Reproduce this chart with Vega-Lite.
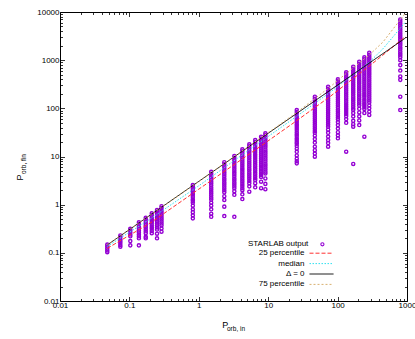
{
  "$schema": "https://vega.github.io/schema/vega-lite/v6.json",
  "width": 347,
  "height": 289,
  "autosize": {"type": "none"},
  "padding": {"left": 60, "top": 12, "right": 8, "bottom": 38},
  "background": "white",
  "config": {
    "view": {"stroke": "#000", "strokeWidth": 1},
    "axis": {"domain": false, "grid": false, "tickColor": "#000", "tickWidth": 0.8, "labelFont": "Liberation Sans", "labelFontSize": 8, "labelColor": "#000", "titleFont": "Liberation Sans", "titleFontWeight": "normal", "titleColor": "#000", "labelOverlap": false, "labelBound": false, "labelFlush": false},
    "legend": {"labelFont": "Liberation Sans", "labelFontSize": 8, "labelColor": "#000", "labelAlign": "right", "padding": 0, "title": null}
  },
  "resolve": {"axis": {"x": "independent", "y": "independent"}},
  "layer": [
    {
      "data": {"values": [
        {"x":0.048,"y":0.148},{"x":0.048,"y":0.135},{"x":0.048,"y":0.123},{"x":0.048,"y":0.112},{"x":0.048,"y":0.103},
        {"x":0.074,"y":0.23},{"x":0.074,"y":0.21},{"x":0.074,"y":0.19},{"x":0.074,"y":0.175},{"x":0.074,"y":0.16},{"x":0.074,"y":0.145},{"x":0.074,"y":0.134},
        {"x":0.103,"y":0.315},{"x":0.103,"y":0.29},{"x":0.103,"y":0.265},{"x":0.103,"y":0.24},{"x":0.103,"y":0.22},{"x":0.103,"y":0.176},{"x":0.103,"y":0.143},
        {"x":0.137,"y":0.43},{"x":0.137,"y":0.39},{"x":0.137,"y":0.355},{"x":0.137,"y":0.32},{"x":0.137,"y":0.29},{"x":0.137,"y":0.265},{"x":0.137,"y":0.24},{"x":0.137,"y":0.22},{"x":0.137,"y":0.2},{"x":0.137,"y":0.143},
        {"x":0.172,"y":0.535},{"x":0.172,"y":0.49},{"x":0.172,"y":0.44},{"x":0.172,"y":0.4},{"x":0.172,"y":0.37},{"x":0.172,"y":0.34},{"x":0.172,"y":0.31},{"x":0.172,"y":0.28},{"x":0.172,"y":0.255},{"x":0.172,"y":0.215},{"x":0.172,"y":0.2},
        {"x":0.21,"y":0.66},{"x":0.21,"y":0.6},{"x":0.21,"y":0.55},{"x":0.21,"y":0.5},{"x":0.21,"y":0.46},{"x":0.21,"y":0.42},{"x":0.21,"y":0.38},{"x":0.21,"y":0.345},{"x":0.21,"y":0.315},{"x":0.21,"y":0.285},{"x":0.21,"y":0.255},
        {"x":0.25,"y":0.775},{"x":0.25,"y":0.71},{"x":0.25,"y":0.645},{"x":0.25,"y":0.59},{"x":0.25,"y":0.535},{"x":0.25,"y":0.49},{"x":0.25,"y":0.445},{"x":0.25,"y":0.405},{"x":0.25,"y":0.37},{"x":0.25,"y":0.335},{"x":0.25,"y":0.305},{"x":0.25,"y":0.25},{"x":0.25,"y":0.2},
        {"x":0.29,"y":0.93},{"x":0.29,"y":0.85},{"x":0.29,"y":0.775},{"x":0.29,"y":0.71},{"x":0.29,"y":0.645},{"x":0.29,"y":0.59},{"x":0.29,"y":0.535},{"x":0.29,"y":0.49},{"x":0.29,"y":0.445},{"x":0.29,"y":0.405},{"x":0.29,"y":0.37},{"x":0.29,"y":0.32},{"x":0.29,"y":0.275},
        {"x":0.82,"y":2.55},{"x":0.82,"y":2.35},{"x":0.82,"y":2.15},{"x":0.82,"y":1.95},{"x":0.82,"y":1.75},{"x":0.82,"y":1.6},{"x":0.82,"y":1.45},{"x":0.82,"y":1.3},{"x":0.82,"y":1.2},{"x":0.82,"y":1.1},{"x":0.82,"y":0.95},{"x":0.82,"y":0.8},{"x":0.82,"y":0.7},{"x":0.82,"y":0.6},{"x":0.82,"y":0.52},
        {"x":1.51,"y":4.8},{"x":1.51,"y":4.4},{"x":1.51,"y":4.0},{"x":1.51,"y":3.65},{"x":1.51,"y":3.3},{"x":1.51,"y":3.0},{"x":1.51,"y":2.75},{"x":1.51,"y":2.5},{"x":1.51,"y":2.25},{"x":1.51,"y":2.05},{"x":1.51,"y":1.85},{"x":1.51,"y":1.7},{"x":1.51,"y":1.55},{"x":1.51,"y":1.4},{"x":1.51,"y":1.28},{"x":1.51,"y":1.1},{"x":1.51,"y":0.95},{"x":1.51,"y":0.8},{"x":1.51,"y":0.65},{"x":1.51,"y":0.56},
        {"x":2.33,"y":7.6},{"x":2.33,"y":6.9},{"x":2.33,"y":6.3},{"x":2.33,"y":5.7},{"x":2.33,"y":5.2},{"x":2.33,"y":4.7},{"x":2.33,"y":4.3},{"x":2.33,"y":3.9},{"x":2.33,"y":3.5},{"x":2.33,"y":3.2},{"x":2.33,"y":2.9},{"x":2.33,"y":2.65},{"x":2.33,"y":2.4},{"x":2.33,"y":2.2},{"x":2.33,"y":2.0},{"x":2.33,"y":1.8},{"x":2.33,"y":1.5},{"x":2.33,"y":1.25},{"x":2.33,"y":0.91},{"x":2.33,"y":0.58},
        {"x":3.25,"y":10.2},{"x":3.25,"y":9.3},{"x":3.25,"y":8.4},{"x":3.25,"y":7.6},{"x":3.25,"y":6.9},{"x":3.25,"y":6.3},{"x":3.25,"y":5.7},{"x":3.25,"y":5.2},{"x":3.25,"y":4.7},{"x":3.25,"y":4.3},{"x":3.25,"y":3.9},{"x":3.25,"y":3.5},{"x":3.25,"y":3.2},{"x":3.25,"y":2.9},{"x":3.25,"y":2.65},{"x":3.25,"y":2.4},{"x":3.25,"y":2.2},{"x":3.25,"y":1.9},{"x":3.25,"y":1.6},{"x":3.25,"y":0.56},
        {"x":4.24,"y":14.1},{"x":4.24,"y":12.8},{"x":4.24,"y":11.6},{"x":4.24,"y":10.5},{"x":4.24,"y":9.5},{"x":4.24,"y":8.6},{"x":4.24,"y":7.8},{"x":4.24,"y":7.1},{"x":4.24,"y":6.4},{"x":4.24,"y":5.8},{"x":4.24,"y":5.3},{"x":4.24,"y":4.8},{"x":4.24,"y":4.4},{"x":4.24,"y":4.0},{"x":4.24,"y":3.6},{"x":4.24,"y":3.3},{"x":4.24,"y":3.0},{"x":4.24,"y":2.7},{"x":4.24,"y":2.45},{"x":4.24,"y":2.2},{"x":4.24,"y":2.0},{"x":4.24,"y":1.64},{"x":4.24,"y":1.31},
        {"x":5.34,"y":17.9},{"x":5.34,"y":16.3},{"x":5.34,"y":14.8},{"x":5.34,"y":13.4},{"x":5.34,"y":12.2},{"x":5.34,"y":11.1},{"x":5.34,"y":10.1},{"x":5.34,"y":9.2},{"x":5.34,"y":8.3},{"x":5.34,"y":7.5},{"x":5.34,"y":6.8},{"x":5.34,"y":6.2},{"x":5.34,"y":5.6},{"x":5.34,"y":5.1},{"x":5.34,"y":4.6},{"x":5.34,"y":4.2},{"x":5.34,"y":3.8},{"x":5.34,"y":3.45},{"x":5.34,"y":3.1},{"x":5.34,"y":2.8},{"x":5.34,"y":2.4},{"x":5.34,"y":1.86},
        {"x":6.5,"y":22},{"x":6.5,"y":20},{"x":6.5,"y":18.2},{"x":6.5,"y":16.5},{"x":6.5,"y":15},{"x":6.5,"y":13.6},{"x":6.5,"y":12.4},{"x":6.5,"y":11.2},{"x":6.5,"y":10.2},{"x":6.5,"y":9.3},{"x":6.5,"y":8.4},{"x":6.5,"y":7.6},{"x":6.5,"y":6.9},{"x":6.5,"y":6.3},{"x":6.5,"y":5.7},{"x":6.5,"y":5.2},{"x":6.5,"y":4.7},{"x":6.5,"y":4.3},{"x":6.5,"y":3.9},{"x":6.5,"y":3.55},{"x":6.5,"y":3.25},{"x":6.5,"y":2.8},{"x":6.5,"y":2.29},
        {"x":7.9,"y":25.8},{"x":7.9,"y":23.5},{"x":7.9,"y":21.3},{"x":7.9,"y":19.4},{"x":7.9,"y":17.6},{"x":7.9,"y":16},{"x":7.9,"y":14.5},{"x":7.9,"y":13.2},{"x":7.9,"y":12},{"x":7.9,"y":10.9},{"x":7.9,"y":9.9},{"x":7.9,"y":9},{"x":7.9,"y":8.2},{"x":7.9,"y":7.4},{"x":7.9,"y":6.7},{"x":7.9,"y":6.1},{"x":7.9,"y":5.5},{"x":7.9,"y":5},{"x":7.9,"y":4.5},{"x":7.9,"y":4.1},{"x":7.9,"y":3.75},{"x":7.9,"y":3.0},{"x":7.9,"y":2.2},
        {"x":9.1,"y":30.3},{"x":9.1,"y":27.5},{"x":9.1,"y":25},{"x":9.1,"y":22.7},{"x":9.1,"y":20.6},{"x":9.1,"y":18.7},{"x":9.1,"y":17},{"x":9.1,"y":15.5},{"x":9.1,"y":14},{"x":9.1,"y":12.7},{"x":9.1,"y":11.6},{"x":9.1,"y":10.5},{"x":9.1,"y":9.5},{"x":9.1,"y":8.7},{"x":9.1,"y":7.9},{"x":9.1,"y":7.1},{"x":9.1,"y":6.5},{"x":9.1,"y":5.9},{"x":9.1,"y":5.35},{"x":9.1,"y":4.85},{"x":9.1,"y":4.45},{"x":9.1,"y":3.5},{"x":9.1,"y":2.7},{"x":9.1,"y":2.09},
        {"x":25.8,"y":92},{"x":25.8,"y":84},{"x":25.8,"y":76},{"x":25.8,"y":69},{"x":25.8,"y":63},{"x":25.8,"y":57},{"x":25.8,"y":52},{"x":25.8,"y":47},{"x":25.8,"y":43},{"x":25.8,"y":39},{"x":25.8,"y":35.5},{"x":25.8,"y":32},{"x":25.8,"y":29},{"x":25.8,"y":26.5},{"x":25.8,"y":24},{"x":25.8,"y":22},{"x":25.8,"y":20},{"x":25.8,"y":18.5},{"x":25.8,"y":16.5},{"x":25.8,"y":14.5},{"x":25.8,"y":12.5},{"x":25.8,"y":10.5},{"x":25.8,"y":9},{"x":25.8,"y":8},{"x":25.8,"y":7.2},
        {"x":47,"y":174},{"x":47,"y":158},{"x":47,"y":144},{"x":47,"y":131},{"x":47,"y":119},{"x":47,"y":108},{"x":47,"y":98},{"x":47,"y":89},{"x":47,"y":81},{"x":47,"y":74},{"x":47,"y":67},{"x":47,"y":61},{"x":47,"y":55},{"x":47,"y":50},{"x":47,"y":45.5},{"x":47,"y":41.5},{"x":47,"y":37.5},{"x":47,"y":34},{"x":47,"y":31},{"x":47,"y":27},{"x":47,"y":23},{"x":47,"y":19.5},{"x":47,"y":16},{"x":47,"y":13.5},{"x":47,"y":11.5},{"x":47,"y":9.9},
        {"x":73,"y":281},{"x":73,"y":255},{"x":73,"y":232},{"x":73,"y":211},{"x":73,"y":192},{"x":73,"y":174},{"x":73,"y":158},{"x":73,"y":144},{"x":73,"y":131},{"x":73,"y":119},{"x":73,"y":108},{"x":73,"y":98},{"x":73,"y":89},{"x":73,"y":81},{"x":73,"y":74},{"x":73,"y":67},{"x":73,"y":61},{"x":73,"y":55},{"x":73,"y":50},{"x":73,"y":45.5},{"x":73,"y":41.5},{"x":73,"y":36},{"x":73,"y":31},{"x":73,"y":26},{"x":73,"y":22},{"x":73,"y":19},{"x":73,"y":16},
        {"x":101,"y":400},{"x":101,"y":364},{"x":101,"y":331},{"x":101,"y":300},{"x":101,"y":273},{"x":101,"y":248},{"x":101,"y":226},{"x":101,"y":205},{"x":101,"y":186},{"x":101,"y":169},{"x":101,"y":154},{"x":101,"y":140},{"x":101,"y":127},{"x":101,"y":116},{"x":101,"y":105},{"x":101,"y":95},{"x":101,"y":87},{"x":101,"y":79},{"x":101,"y":72},{"x":101,"y":65},{"x":101,"y":59},{"x":101,"y":52},{"x":101,"y":45},{"x":101,"y":38},{"x":101,"y":32},{"x":101,"y":27.5},{"x":101,"y":23.9},
        {"x":133,"y":560},{"x":133,"y":509},{"x":133,"y":463},{"x":133,"y":421},{"x":133,"y":383},{"x":133,"y":348},{"x":133,"y":316},{"x":133,"y":287},{"x":133,"y":261},{"x":133,"y":237},{"x":133,"y":216},{"x":133,"y":196},{"x":133,"y":178},{"x":133,"y":162},{"x":133,"y":147},{"x":133,"y":134},{"x":133,"y":122},{"x":133,"y":111},{"x":133,"y":101},{"x":133,"y":92},{"x":133,"y":84},{"x":133,"y":76},{"x":133,"y":69},{"x":133,"y":60},{"x":133,"y":50},{"x":133,"y":12.6},
        {"x":168,"y":731},{"x":168,"y":665},{"x":168,"y":605},{"x":168,"y":550},{"x":168,"y":500},{"x":168,"y":455},{"x":168,"y":413},{"x":168,"y":375},{"x":168,"y":341},{"x":168,"y":310},{"x":168,"y":282},{"x":168,"y":256},{"x":168,"y":233},{"x":168,"y":212},{"x":168,"y":193},{"x":168,"y":175},{"x":168,"y":159},{"x":168,"y":145},{"x":168,"y":132},{"x":168,"y":120},{"x":168,"y":109},{"x":168,"y":99},{"x":168,"y":92},{"x":168,"y":80},{"x":168,"y":68},{"x":168,"y":55},{"x":168,"y":47},{"x":168,"y":41.5},{"x":168,"y":7.0},
        {"x":205,"y":929},{"x":205,"y":845},{"x":205,"y":768},{"x":205,"y":698},{"x":205,"y":635},{"x":205,"y":577},{"x":205,"y":525},{"x":205,"y":477},{"x":205,"y":434},{"x":205,"y":394},{"x":205,"y":358},{"x":205,"y":326},{"x":205,"y":296},{"x":205,"y":269},{"x":205,"y":245},{"x":205,"y":223},{"x":205,"y":202},{"x":205,"y":184},{"x":205,"y":167},{"x":205,"y":152},{"x":205,"y":138},{"x":205,"y":126},{"x":205,"y":114},{"x":205,"y":98},{"x":205,"y":82},{"x":205,"y":68},{"x":205,"y":56},{"x":205,"y":45},
        {"x":243,"y":1146},{"x":243,"y":1042},{"x":243,"y":947},{"x":243,"y":861},{"x":243,"y":783},{"x":243,"y":712},{"x":243,"y":647},{"x":243,"y":588},{"x":243,"y":535},{"x":243,"y":486},{"x":243,"y":442},{"x":243,"y":402},{"x":243,"y":365},{"x":243,"y":332},{"x":243,"y":302},{"x":243,"y":275},{"x":243,"y":250},{"x":243,"y":227},{"x":243,"y":206},{"x":243,"y":188},{"x":243,"y":171},{"x":243,"y":155},{"x":243,"y":141},{"x":243,"y":128},{"x":243,"y":117},{"x":243,"y":106},{"x":243,"y":97},{"x":243,"y":80},{"x":243,"y":25.8},
        {"x":286,"y":1430},{"x":286,"y":1300},{"x":286,"y":1182},{"x":286,"y":1075},{"x":286,"y":977},{"x":286,"y":888},{"x":286,"y":807},{"x":286,"y":734},{"x":286,"y":667},{"x":286,"y":606},{"x":286,"y":551},{"x":286,"y":501},{"x":286,"y":456},{"x":286,"y":414},{"x":286,"y":377},{"x":286,"y":342},{"x":286,"y":311},{"x":286,"y":283},{"x":286,"y":257},{"x":286,"y":234},{"x":286,"y":213},{"x":286,"y":193},{"x":286,"y":176},{"x":286,"y":160},{"x":286,"y":145},{"x":286,"y":132},{"x":286,"y":115},{"x":286,"y":100},{"x":286,"y":85},{"x":286,"y":73},
        {"x":800,"y":7000},{"x":800,"y":6360},{"x":800,"y":5780},{"x":800,"y":5260},{"x":800,"y":4780},{"x":800,"y":4350},{"x":800,"y":3950},{"x":800,"y":3590},{"x":800,"y":3270},{"x":800,"y":2970},{"x":800,"y":2700},{"x":800,"y":2450},{"x":800,"y":2230},{"x":800,"y":2030},{"x":800,"y":1840},{"x":800,"y":1680},{"x":800,"y":1520},{"x":800,"y":1380},{"x":800,"y":1260},{"x":800,"y":1150},{"x":800,"y":1000},{"x":800,"y":790},{"x":800,"y":610},{"x":800,"y":460},{"x":800,"y":390},{"x":800,"y":174},{"x":800,"y":92}
      ]},
      "mark": {"type": "point", "filled": false, "size": 10, "strokeWidth": 1.4, "color": "#9400d3", "opacity": 1},
      "encoding": {
        "x": {"field": "x", "type": "quantitative", "scale": {"type": "log", "domain": [0.01, 1000], "nice": false},
          "axis": {"orient": "bottom", "values": [0.01, 0.1, 1, 10, 100, 1000], "format": "~g", "tickSize": -4.5, "labelPadding": 5, "title": "P", "titleFontSize": 9, "titleX": 161.7, "titleY": 26.3, "titleAlign": "left", "titleBaseline": "alphabetic", "titleAngle": 0}},
        "y": {"field": "y", "type": "quantitative", "scale": {"type": "log", "domain": [0.01, 10000], "nice": false},
          "axis": {"orient": "left", "values": [0.01, 0.1, 1, 10, 100, 1000, 10000], "format": "~g", "tickSize": -4.5, "labelPadding": 5.5, "title": "P", "titleFontSize": 9, "titleAngle": -90, "titleX": -38, "titleY": 168, "titleAlign": "left", "titleBaseline": "alphabetic"}},
        "shape": {"datum": "STARLAB output", "type": "nominal", "scale": {"range": ["circle"]},
          "legend": {"orient": "none", "legendX": 258.4, "legendY": 228.3, "symbolSize": 10, "symbolStrokeWidth": 1.1, "symbolStrokeColor": "#9400d3", "symbolFillColor": "transparent", "labelOffset": -18.1, "title": null}}
      }
    },
    {
      "data": {"values": [
        {"x":0.048,"y":0.124},{"x":0.2,"y":0.416},{"x":1,"y":2.10},{"x":7.6,"y":16.0},{"x":25,"y":53.8},{"x":78,"y":176},{"x":135,"y":326},{"x":290,"y":767},{"x":450,"y":1276},{"x":950,"y":3097}
      ]},
      "mark": {"type": "line", "strokeWidth": 1, "clip": true},
      "encoding": {
        "x": {"field": "x", "type": "quantitative", "scale": {"type": "log", "domain": [0.01, 1000], "nice": false},
          "axis": {"orient": "bottom", "values": [0.02,0.03,0.04,0.05,0.06,0.07,0.08,0.09,0.2,0.3,0.4,0.5,0.6,0.7,0.8,0.9,2,3,4,5,6,7,8,9,20,30,40,50,60,70,80,90,200,300,400,500,600,700,800,900], "tickSize": -2.5, "labels": false, "title": "orb, in", "titleFontSize": 6.5, "titleX": 166.5, "titleY": 29.5, "titleAlign": "left", "titleBaseline": "alphabetic", "titleAngle": 0}},
        "y": {"field": "y", "type": "quantitative", "scale": {"type": "log", "domain": [0.01, 10000], "nice": false},
          "axis": {"orient": "left", "values": [0.02,0.03,0.04,0.05,0.06,0.07,0.08,0.09,0.2,0.3,0.4,0.5,0.6,0.7,0.8,0.9,2,3,4,5,6,7,8,9,20,30,40,50,60,70,80,90,200,300,400,500,600,700,800,900,2000,3000,4000,5000,6000,7000,8000,9000], "tickSize": -2.5, "labels": false, "title": "orb, fin", "titleFontSize": 6.5, "titleAngle": -90, "titleX": -34.5, "titleY": 161.5, "titleAlign": "left", "titleBaseline": "alphabetic"}},
        "color": {"datum": "25 percentile", "type": "nominal", "scale": {"domain": ["25 percentile", "median", "Δ = 0", "75 percentile"], "range": ["#ff3030", "#30e0f0", "#000000", "#d8b070"]},
          "legend": {"orient": "none", "legendX": 257, "legendY": 236.7, "symbolType": "M-3,0H3", "symbolSize": 64, "symbolStrokeWidth": 1, "rowPadding": 1.4, "labelOffset": -21.5, "title": null}},
        "strokeDash": {"datum": "25 percentile", "type": "nominal", "scale": {"domain": ["25 percentile", "median", "Δ = 0", "75 percentile"], "range": [[4, 2], [1.5, 1.5], [1, 0], [2, 2]]},
          "legend": {"orient": "none", "legendX": 257, "legendY": 236.7, "symbolType": "M-3,0H3", "symbolSize": 64, "symbolStrokeWidth": 1, "rowPadding": 1.4, "labelOffset": -21.5, "title": null}}
      }
    },
    {
      "data": {"values": [
        {"x":0.048,"y":0.136},{"x":0.2,"y":0.506},{"x":1,"y":2.47},{"x":7.6,"y":19.7},{"x":25,"y":66.2},{"x":78,"y":216},{"x":135,"y":392},{"x":290,"y":923},{"x":450,"y":1722},{"x":950,"y":6180}
      ]},
      "mark": {"type": "line", "strokeWidth": 1, "clip": true},
      "encoding": {
        "x": {"field": "x", "type": "quantitative", "scale": {"type": "log", "domain": [0.01, 1000], "nice": false},
          "axis": {"orient": "top", "values": [0.01, 0.1, 1, 10, 100, 1000], "tickSize": -4.5, "labels": false, "title": null}},
        "y": {"field": "y", "type": "quantitative", "scale": {"type": "log", "domain": [0.01, 10000], "nice": false},
          "axis": {"orient": "right", "values": [0.01, 0.1, 1, 10, 100, 1000, 10000], "tickSize": -4.5, "labels": false, "title": null}},
        "color": {"datum": "median", "type": "nominal"},
        "strokeDash": {"datum": "median", "type": "nominal"}
      }
    },
    {
      "data": {"values": [
        {"x":0.048,"y":0.146},{"x":950,"y":2890}
      ]},
      "mark": {"type": "line", "strokeWidth": 1, "clip": true},
      "encoding": {
        "x": {"field": "x", "type": "quantitative", "scale": {"type": "log", "domain": [0.01, 1000], "nice": false},
          "axis": {"orient": "top", "values": [0.02,0.03,0.04,0.05,0.06,0.07,0.08,0.09,0.2,0.3,0.4,0.5,0.6,0.7,0.8,0.9,2,3,4,5,6,7,8,9,20,30,40,50,60,70,80,90,200,300,400,500,600,700,800,900], "tickSize": -2.5, "labels": false, "title": null}},
        "y": {"field": "y", "type": "quantitative", "scale": {"type": "log", "domain": [0.01, 10000], "nice": false},
          "axis": {"orient": "right", "values": [0.02,0.03,0.04,0.05,0.06,0.07,0.08,0.09,0.2,0.3,0.4,0.5,0.6,0.7,0.8,0.9,2,3,4,5,6,7,8,9,20,30,40,50,60,70,80,90,200,300,400,500,600,700,800,900,2000,3000,4000,5000,6000,7000,8000,9000], "tickSize": -2.5, "labels": false, "title": null}},
        "color": {"datum": "Δ = 0", "type": "nominal"},
        "strokeDash": {"datum": "Δ = 0", "type": "nominal"}
      }
    },
    {
      "data": {"values": [
        {"x":0.048,"y":0.146},{"x":0.2,"y":0.608},{"x":1,"y":3.04},{"x":7.6,"y":23.7},{"x":25,"y":79.6},{"x":78,"y":279},{"x":135,"y":541},{"x":290,"y":1303},{"x":450,"y":2377},{"x":950,"y":9500}
      ]},
      "mark": {"type": "line", "strokeWidth": 1, "clip": true},
      "encoding": {
        "x": {"field": "x", "type": "quantitative", "scale": {"type": "log", "domain": [0.01, 1000], "nice": false}, "axis": null},
        "y": {"field": "y", "type": "quantitative", "scale": {"type": "log", "domain": [0.01, 10000], "nice": false}, "axis": null},
        "color": {"datum": "75 percentile", "type": "nominal"},
        "strokeDash": {"datum": "75 percentile", "type": "nominal"}
      }
    }
  ]
}
